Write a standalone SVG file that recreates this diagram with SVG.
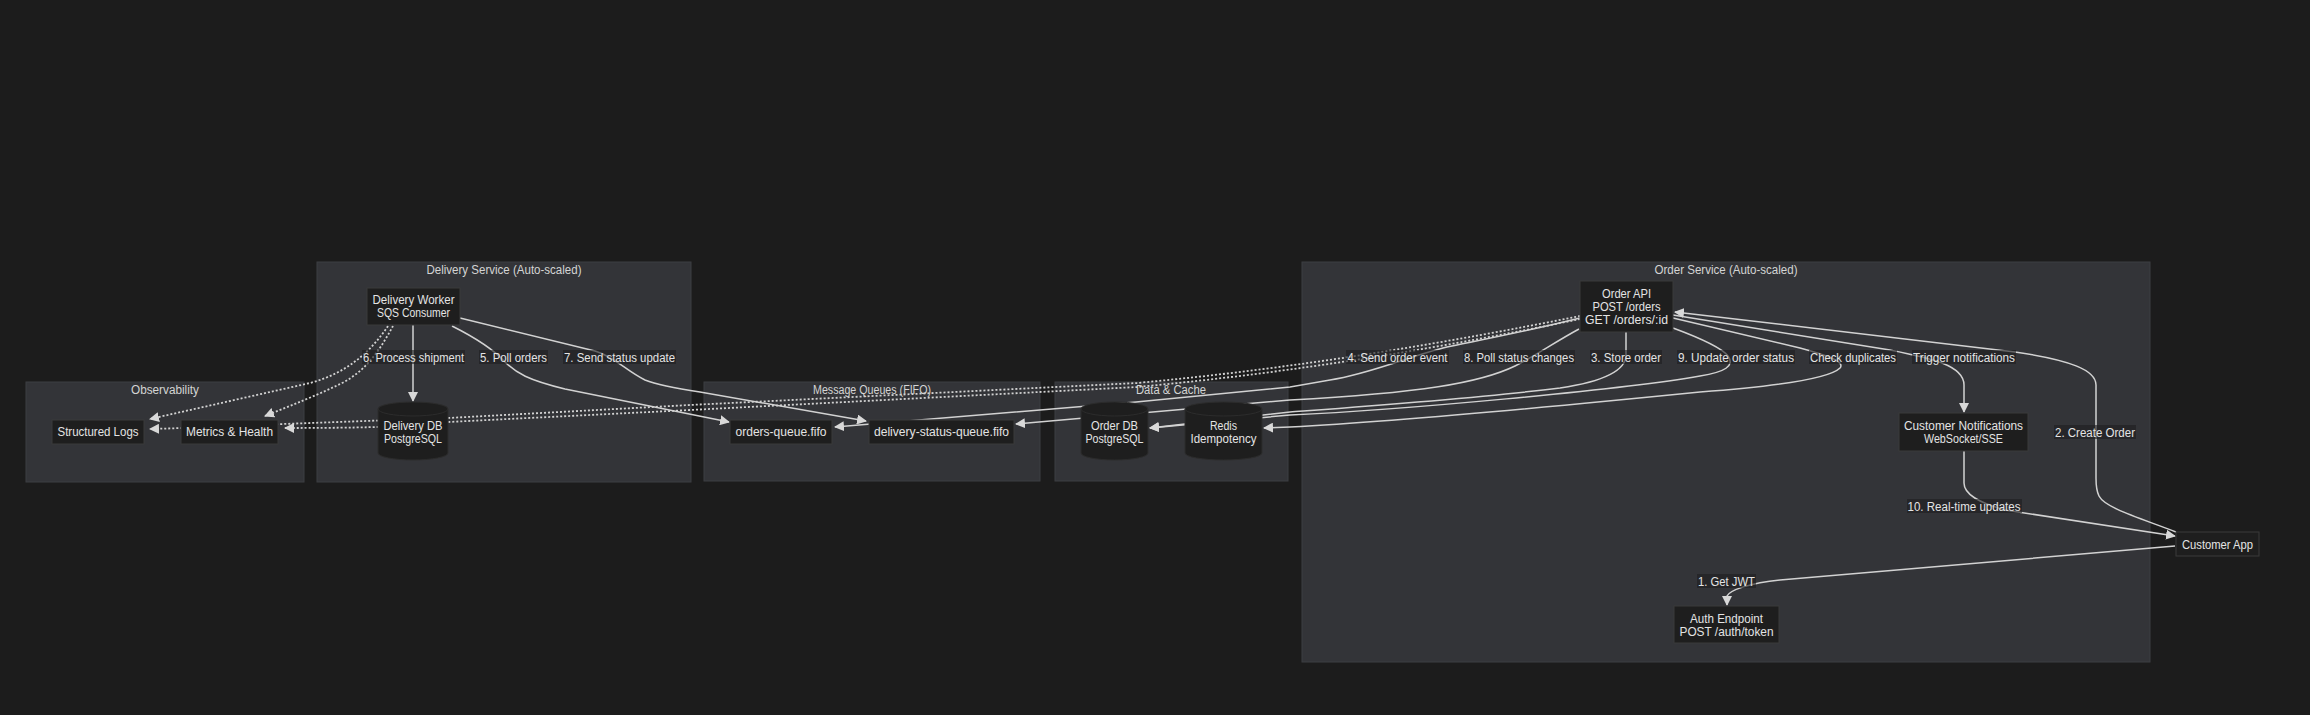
<svg xmlns="http://www.w3.org/2000/svg" width="2310" height="715" viewBox="0 0 2310 715">
<style>
text{font-family:"Liberation Sans",Arial,sans-serif;font-size:12.5px;fill:#e4e4e4;text-anchor:middle}
.ct{fill:#d4d4d4}
.cl{fill:#333438;stroke:#3d3e42;stroke-width:1}
.nd{fill:#1e1e1e;stroke:#3a3a3a;stroke-width:1}
.cy{fill:#1e1e1e;stroke:#2c2c2c;stroke-width:1}
.e{fill:none;stroke:#d2d2d2;stroke-width:1.5}
.d{fill:none;stroke:#d2d2d2;stroke-width:1.8;stroke-dasharray:2,2}
.lb{fill:#1e1e1f;fill-opacity:0.6}
</style>
<defs>
<marker id="arr" viewBox="0 0 10 10" refX="9" refY="5" markerWidth="10" markerHeight="10" markerUnits="userSpaceOnUse" orient="auto">
<path d="M0,0 L10,5 L0,10 z" fill="#d8d8d8"/>
</marker>
</defs>
<rect x="0" y="0" width="2310" height="715" fill="#1c1c1c"/>

<g id="clusters">
<g id="cluster-observability"><rect class="cl" x="26" y="382" width="278" height="100"/><text class="ct" x="165" y="393.5" textLength="68" lengthAdjust="spacingAndGlyphs">Observability</text></g>
<g id="cluster-delivery"><rect class="cl" x="317" y="262" width="374" height="220"/><text class="ct" x="504" y="273.5" textLength="155" lengthAdjust="spacingAndGlyphs">Delivery Service (Auto-scaled)</text></g>
<g id="cluster-queues"><rect class="cl" x="704" y="382" width="336" height="99"/><text class="ct" x="872" y="393.5" textLength="118" lengthAdjust="spacingAndGlyphs">Message Queues (FIFO)</text></g>
<g id="cluster-data"><rect class="cl" x="1055" y="382" width="233" height="99"/><text class="ct" x="1171" y="393.5" textLength="70" lengthAdjust="spacingAndGlyphs">Data &amp; Cache</text></g>
<g id="cluster-order"><rect class="cl" x="1302" y="262" width="848" height="400"/><text class="ct" x="1726" y="273.5" textLength="143" lengthAdjust="spacingAndGlyphs">Order Service (Auto-scaled)</text></g>
</g>

<g id="connectors">
<path class="e" d="M413,325 L413,401" marker-end="url(#arr)"/>
<path class="e" d="M452,326 C478,339 494,350 505,362 C516,373 528,380 565,389 L729,422" marker-end="url(#arr)"/>
<path class="e" d="M460,318 L595,351 C615,357 625,370 645,380 C660,386 680,389 700,392 L866,421" marker-end="url(#arr)"/>
<path class="d" d="M388,326 C372,350 348,373 310,383 L150,419" marker-end="url(#arr)"/>
<path class="d" d="M393,326 C382,346 368,370 342,383 C318,395 292,405 265,416" marker-end="url(#arr)"/>
<path class="d" d="M1580,316 C1450,342 1300,368 1137,383 L690,405 L448,418 L283,424 C230,426 190,428 150,429" marker-end="url(#arr)"/>
<path class="d" d="M1580,319 C1450,346 1300,372 1137,387 L690,410 L448,422 C420,425 400,428 285,428" marker-end="url(#arr)"/>
<path class="e" d="M1580,318 C1520,333 1470,342 1447,347 C1410,356 1370,374 1330,380 L1290,387 L1136,402 L835,427" marker-end="url(#arr)"/>
<path class="e" d="M1579,329 C1555,342 1535,356 1515,366 C1480,383 1420,393 1290,400 L1016,424" marker-end="url(#arr)"/>
<path class="e" d="M1626,332 L1626,355 C1626,372 1600,382 1560,388 C1480,398 1370,406 1290,412 L1150,428" marker-end="url(#arr)"/>
<path class="e" d="M1673,328 C1700,338 1722,348 1728,356 C1735,366 1725,372 1700,376 C1620,390 1400,410 1290,415 L1150,428" marker-end="url(#arr)"/>
<path class="e" d="M1673,318 L1800,348 C1830,356 1845,362 1840,368 C1830,378 1780,386 1700,392 C1600,402 1420,420 1290,427 L1264,428" marker-end="url(#arr)"/>
<path class="e" d="M1673,315 L1890,350 C1930,358 1964,365 1964,385 L1964,412" marker-end="url(#arr)"/>
<path class="e" d="M2176,532 C2140,518 2105,508 2099,496 C2096,490 2096,485 2096,478 L2096,385 C2096,370 2070,360 2015,352 L1675,312" marker-end="url(#arr)"/>
<path class="e" d="M1964,451 L1964,483 C1964,495 1980,503 2005,510 L2175,536" marker-end="url(#arr)"/>
<path class="e" d="M2175,546 L1780,580 C1750,583 1730,590 1727,596 L1727,605" marker-end="url(#arr)"/>
</g>

<g id="edge-labels">
<rect class="lb" x="362" y="350" width="103" height="14"/><text x="413.5" y="361.5" textLength="101" lengthAdjust="spacingAndGlyphs">6. Process shipment</text>
<rect class="lb" x="479" y="350" width="69" height="14"/><text x="513.5" y="361.5" textLength="67" lengthAdjust="spacingAndGlyphs">5. Poll orders</text>
<rect class="lb" x="563" y="350" width="113" height="14"/><text x="619.5" y="361.5" textLength="111" lengthAdjust="spacingAndGlyphs">7. Send status update</text>
<rect class="lb" x="1346" y="350" width="103" height="14"/><text x="1397.5" y="361.5" textLength="100" lengthAdjust="spacingAndGlyphs">4. Send order event</text>
<rect class="lb" x="1463" y="350" width="112" height="14"/><text x="1519" y="361.5" textLength="110" lengthAdjust="spacingAndGlyphs">8. Poll status changes</text>
<rect class="lb" x="1590" y="350" width="72" height="14"/><text x="1626" y="361.5" textLength="70" lengthAdjust="spacingAndGlyphs">3. Store order</text>
<rect class="lb" x="1677" y="350" width="118" height="14"/><text x="1736" y="361.5" textLength="116" lengthAdjust="spacingAndGlyphs">9. Update order status</text>
<rect class="lb" x="1809" y="350" width="88" height="14"/><text x="1853" y="361.5" textLength="86" lengthAdjust="spacingAndGlyphs">Check duplicates</text>
<rect class="lb" x="1912" y="350" width="104" height="14"/><text x="1964" y="361.5" textLength="102" lengthAdjust="spacingAndGlyphs">Trigger notifications</text>
<rect class="lb" x="2054" y="425" width="82" height="14"/><text x="2095" y="436.5" textLength="80" lengthAdjust="spacingAndGlyphs">2. Create Order</text>
<rect class="lb" x="1907" y="499" width="115" height="14"/><text x="1964" y="510.5" textLength="113" lengthAdjust="spacingAndGlyphs">10. Real-time updates</text>
<rect class="lb" x="1697" y="574" width="59" height="14"/><text x="1726.5" y="585.5" textLength="57" lengthAdjust="spacingAndGlyphs">1. Get JWT</text>
</g>

<g id="node-structured-logs"><rect class="nd" x="52" y="420" width="92" height="24"/><text x="98" y="436" textLength="81" lengthAdjust="spacingAndGlyphs">Structured Logs</text></g>
<g id="node-metrics"><rect class="nd" x="181" y="420" width="97" height="24"/><text x="229.5" y="436" textLength="87" lengthAdjust="spacingAndGlyphs">Metrics &amp; Health</text></g>
<g id="node-delivery-worker"><rect class="nd" x="367" y="288" width="93" height="37"/><text x="413.5" y="304" textLength="82" lengthAdjust="spacingAndGlyphs">Delivery Worker</text><text x="413.5" y="317" textLength="73" lengthAdjust="spacingAndGlyphs">SQS Consumer</text></g>
<g id="node-delivery-db"><path class="cy" d="M378,409 a35,7 0 0 1 70,0 L448,453 a35,7 0 0 1 -70,0 Z"/><path fill="none" stroke="#2c2c2c" d="M378,409 a35,7 0 0 0 70,0"/><text x="413" y="429.5" textLength="59" lengthAdjust="spacingAndGlyphs">Delivery DB</text><text x="413" y="442.5" textLength="58" lengthAdjust="spacingAndGlyphs">PostgreSQL</text></g>
<g id="node-orders-queue"><rect class="nd" x="730" y="420" width="102" height="24"/><text x="781" y="436" textLength="91" lengthAdjust="spacingAndGlyphs">orders-queue.fifo</text></g>
<g id="node-delivery-status-queue"><rect class="nd" x="869" y="420" width="145" height="24"/><text x="941.5" y="436" textLength="135" lengthAdjust="spacingAndGlyphs">delivery-status-queue.fifo</text></g>
<g id="node-order-db"><path class="cy" d="M1081,409 a33.5,7 0 0 1 67,0 L1148,453 a33.5,7 0 0 1 -67,0 Z"/><path fill="none" stroke="#2c2c2c" d="M1081,409 a33.5,7 0 0 0 67,0"/><text x="1114.5" y="429.5" textLength="47" lengthAdjust="spacingAndGlyphs">Order DB</text><text x="1114.5" y="442.5" textLength="58" lengthAdjust="spacingAndGlyphs">PostgreSQL</text></g>
<g id="node-redis"><path class="cy" d="M1185,409 a38.5,7 0 0 1 77,0 L1262,453 a38.5,7 0 0 1 -77,0 Z"/><path fill="none" stroke="#2c2c2c" d="M1185,409 a38.5,7 0 0 0 77,0"/><text x="1223.5" y="429.5" textLength="27" lengthAdjust="spacingAndGlyphs">Redis</text><text x="1223.5" y="442.5" textLength="66" lengthAdjust="spacingAndGlyphs">Idempotency</text></g>
<g id="node-order-api"><rect class="nd" x="1580" y="281" width="93" height="51"/><text x="1626.5" y="297.5" textLength="49" lengthAdjust="spacingAndGlyphs">Order API</text><text x="1626.5" y="310.5" textLength="68" lengthAdjust="spacingAndGlyphs">POST /orders</text><text x="1626.5" y="323.5" textLength="83" lengthAdjust="spacingAndGlyphs">GET /orders/:id</text></g>
<g id="node-customer-notifications"><rect class="nd" x="1899" y="413" width="129" height="38"/><text x="1963.5" y="429.5" textLength="119" lengthAdjust="spacingAndGlyphs">Customer Notifications</text><text x="1963.5" y="442.5" textLength="79" lengthAdjust="spacingAndGlyphs">WebSocket/SSE</text></g>
<g id="node-customer-app"><rect class="nd" x="2176" y="532" width="83" height="24" stroke="#444"/><text x="2217.5" y="548.5" textLength="71" lengthAdjust="spacingAndGlyphs">Customer App</text></g>
<g id="node-auth-endpoint"><rect class="nd" x="1674" y="606" width="105" height="37"/><text x="1726.5" y="622.5" textLength="73" lengthAdjust="spacingAndGlyphs">Auth Endpoint</text><text x="1726.5" y="635.5" textLength="94" lengthAdjust="spacingAndGlyphs">POST /auth/token</text></g>
</svg>
